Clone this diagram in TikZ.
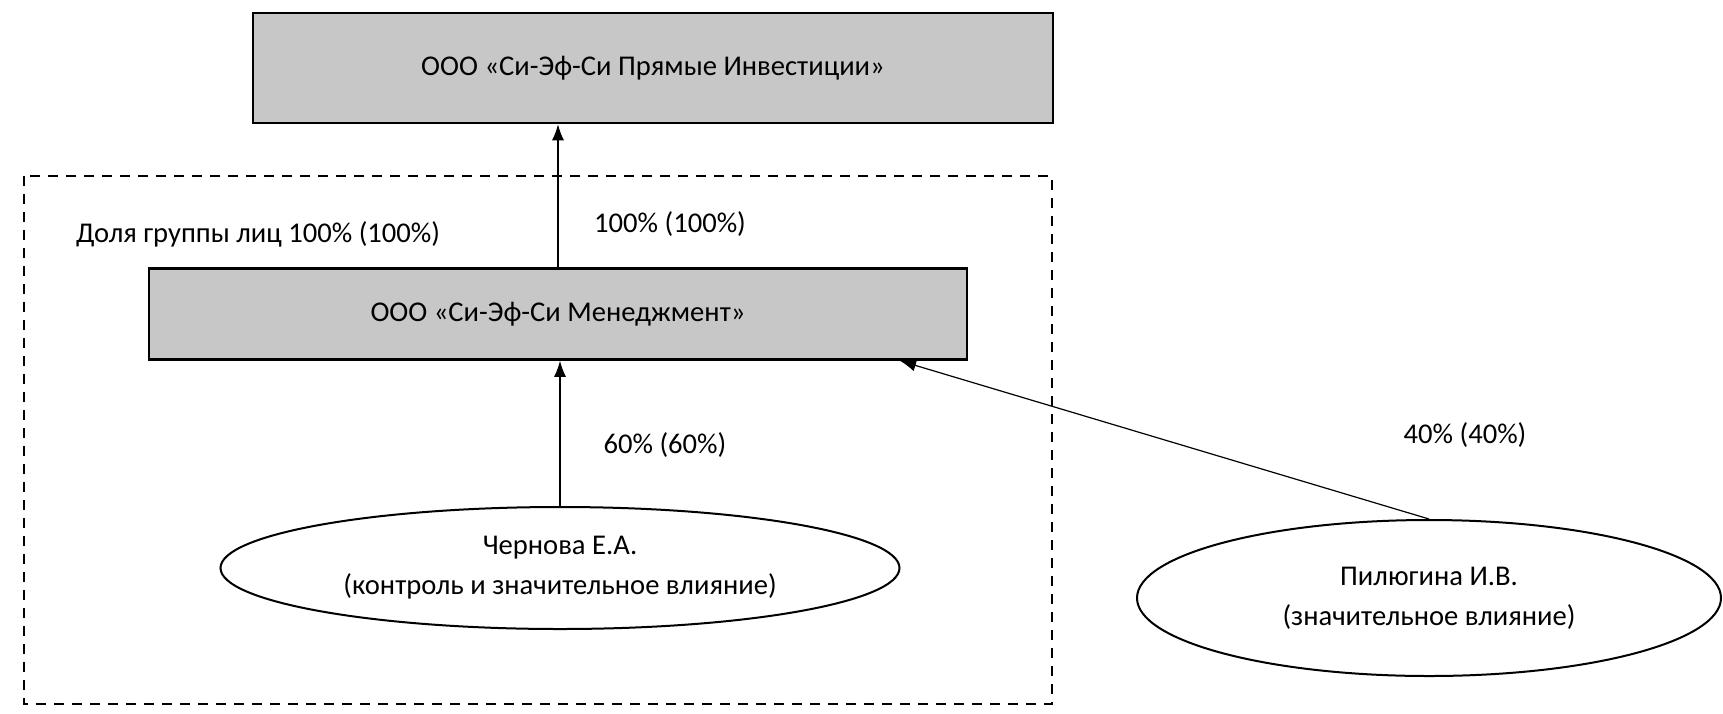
\documentclass[tikz,border=0pt]{standalone}
\usepackage{fontspec}
\setmainfont{Carlito}
\usetikzlibrary{shapes.geometric,arrows.meta}

\begin{document}
\begin{tikzpicture}
  [x=0.5pt,y=-0.5pt,font=\fontsize{14.3}{20}\selectfont,
   firm/.style={draw,line width=1.3pt,fill=black!22},
   person/.style={ellipse,draw,line width=1pt,align=center,inner sep=0pt},
   share/.style={-{Latex[length=8pt,width=6pt]},line width=0.6pt},
   groupbox/.style={line width=1.2pt,dash pattern=on 5pt off 4pt}]
  \useasboundingbox (0,0) rectangle (1723,713);

  \draw[groupbox] (24,176) rectangle (1052,704);

  \node[firm,minimum width=400pt,minimum height=55pt] (pii) at (653,68) {ООО «Си-Эф-Си Прямые Инвестиции»};
  \node[firm,minimum width=409pt,minimum height=45.5pt] (mgmt) at (558,314) {ООО «Си-Эф-Си Менеджмент»};
  \node[person,minimum width=339.5pt,minimum height=61pt] (chern) at (560,568) {Чернова Е.А.\\(контроль и значительное влияние)};
  \node[person,minimum width=292pt,minimum height=78pt] (pil) at (1429,598) {Пилюгина И.В.\\(значительное влияние)};

  \node (grp) at (258,234) {Доля группы лиц 100\% (100\%)};
  \node (p100) at (670,224) {100\% (100\%)};
  \node (p60) at (665,445) {60\% (60\%)};
  \node (p40) at (1465,435) {40\% (40\%)};

  \draw[share] (mgmt.north) -- (mgmt.north |- pii.south);
  \draw[share] (chern.north) -- (chern.north |- mgmt.south);
  \draw[share] (pil.north) -- ([xshift=171pt]mgmt.south);

\end{tikzpicture}
\end{document}
